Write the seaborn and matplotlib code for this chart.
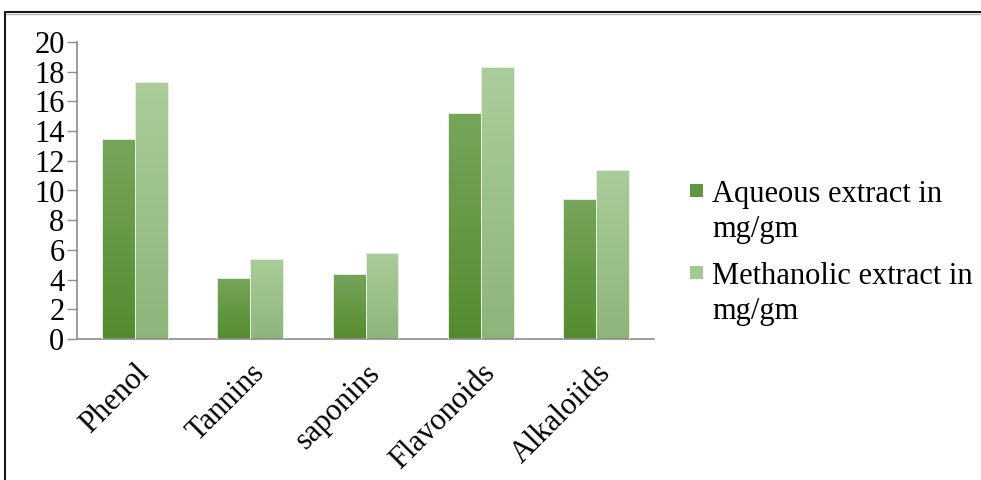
import numpy as np
import pandas as pd
import matplotlib
matplotlib.use("Agg")
import matplotlib.pyplot as plt
from matplotlib.colors import LinearSegmentedColormap
from matplotlib.lines import Line2D
from matplotlib.patches import Rectangle
from matplotlib.transforms import ScaledTranslation
import seaborn as sns

# Phytochemical content per extract (mg/gm)
categories = ["Phenol", "Tannins", "saponins", "Flavonoids", "Alkaloiids"]
aqueous = [13.5, 4.1, 4.4, 15.2, 9.4]
methanolic = [17.3, 5.4, 5.8, 18.3, 11.4]
series_labels = ["Aqueous extract in\nmg/gm", "Methanolic extract in\nmg/gm"]
y_ticks = list(range(0, 21, 2))

df = pd.DataFrame({
    "category": categories * 2,
    "value": aqueous + methanolic,
    "series": [series_labels[0]] * len(categories) + [series_labels[1]] * len(categories),
})

sns.set_theme(style="white")
plt.rcParams["font.family"] = ["Liberation Serif", "DejaVu Serif"]
plt.rcParams["text.color"] = "black"
plt.rcParams["xtick.color"] = "black"
plt.rcParams["ytick.color"] = "black"

# top/bottom colours of each series' vertical gradient
grad_colors = {
    series_labels[0]: ("#77a65c", "#548b2e"),
    series_labels[1]: ("#abcd9a", "#8db479"),
}
swatch = {series_labels[0]: "#5f9640", series_labels[1]: "#a4c892"}

W, H = 981, 480
fig = plt.figure(figsize=(W / 100, H / 100), dpi=100)
ax = fig.add_axes([77 / W, 141 / H, (654 - 77) / W, (339 - 42) / H])

sns.barplot(data=df, x="category", y="value", hue="series", order=categories,
            hue_order=series_labels, palette=[swatch[s] for s in series_labels],
            width=0.57, dodge=True, legend=False, ax=ax, saturation=1)

# replace the flat fills with vertical gradients clipped to each bar
n = len(categories)
for i, patch in enumerate(ax.patches[: 2 * n]):
    s = series_labels[i // n]
    top, bot = grad_colors[s]
    cmap = LinearSegmentedColormap.from_list("g", [bot, top])
    x0 = patch.get_x()
    w = patch.get_width()
    h = patch.get_height()
    grad = np.linspace(0, 1, 256).reshape(-1, 1)
    im = ax.imshow(grad, extent=[x0 - 0.01, x0 + w + 0.01, -0.2, h + 0.2],
                   origin="lower", cmap=cmap, aspect="auto", zorder=2,
                   interpolation="bilinear")
    im.set_clip_path(patch)
    patch.set_facecolor("none")
    patch.set_edgecolor("#e6f0e0")
    patch.set_linewidth(0.7)
    patch.set_zorder(3)

ax.set_xlim(-0.5, n - 0.5)
ax.set_ylim(0, 20)
ax.set_yticks(y_ticks)
ax.set_yticklabels([str(t) for t in y_ticks], fontsize=22)
ax.set_xticks(range(n))
ax.set_xticklabels(categories, fontsize=22, rotation=45, ha="right",
                   rotation_mode="anchor")
shift = ScaledTranslation(-6 / 100, 0, fig.dpi_scale_trans)
for lbl in ax.get_xticklabels():
    lbl.set_transform(lbl.get_transform() + shift)
ax.set_xticks(np.arange(-0.5, n, 1.0), minor=True)
ax.tick_params(axis="x", which="major", length=0, pad=14)
ax.tick_params(axis="x", which="minor", length=7, width=1, color="#8c8c8c",
               direction="out")
ax.tick_params(axis="y", length=7, width=1, color="#8c8c8c", direction="out",
               left=True, pad=2)
ax.set_xlabel("")
ax.set_ylabel("")
for side in ["top", "right"]:
    ax.spines[side].set_visible(False)
for side in ["left", "bottom"]:
    ax.spines[side].set_color("#8c8c8c")
    ax.spines[side].set_linewidth(1.2)
ax.grid(False)

# legend: swatch beside the first line of each wrapped label
entry_top = [202, 284]
for s, base in zip(series_labels, entry_top):
    fig.add_artist(Rectangle((690 / W, 1 - (base - 5) / H), 13 / W, 13 / H,
                             transform=fig.transFigure, facecolor=swatch[s],
                             edgecolor="none"))
    for k, line in enumerate(s.split("\n")):
        fig.text(712 / W, 1 - (base + 35 * k) / H, line, fontsize=22,
                 va="baseline", ha="left", color="black")

# outer frame lines along the top and left edges
fig.add_artist(Line2D([5 / W, 1], [1 - 11.5 / H] * 2, color="#1a1a1a",
                      lw=1.5, transform=fig.transFigure))
fig.add_artist(Line2D([6 / W, 1], [1 - 13.5 / H] * 2, color="#b8b8b8",
                      lw=1.0, transform=fig.transFigure))
fig.add_artist(Line2D([5 / W] * 2, [0, 1 - 11.5 / H], color="#1a1a1a",
                      lw=1.5, transform=fig.transFigure))

fig.savefig("out.png", dpi=100)
